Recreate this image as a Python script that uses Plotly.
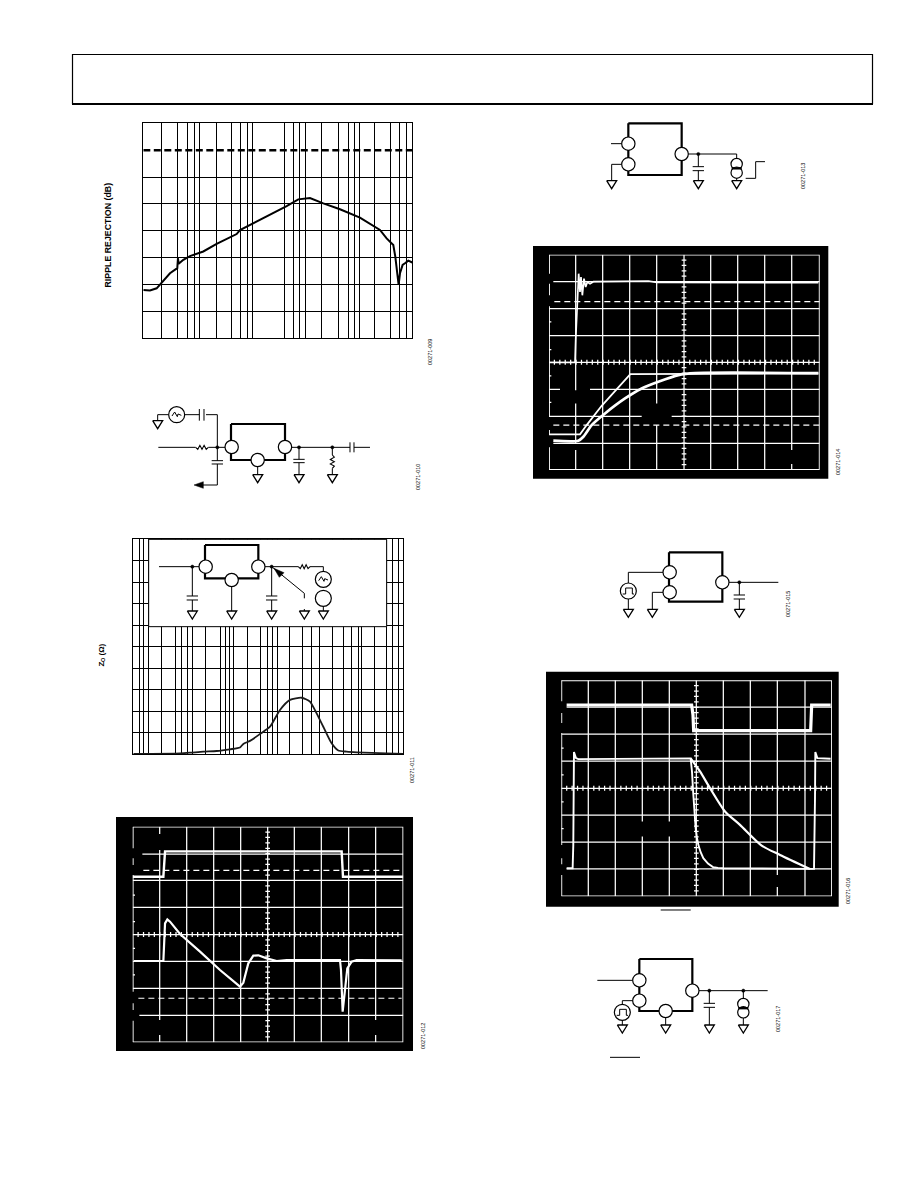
import plotly.graph_objects as go

W, H = 918, 1188

# ---------- data ----------
# Ripple rejection (log10 frequency, dB)
ripple_logf = [1.0,1.124,1.248,1.341,1.496,1.632,1.644,1.657,1.744,1.867,1.991,2.115,2.363,2.735,2.797,3.045,3.354,3.664,3.881,4.098,4.346,4.656,5.027,5.399,5.523,5.647,5.684,5.721,5.746,5.771,5.82,5.864,5.926,6.0]
ripple_db = [-62,-62.2,-61.4,-59.3,-55.8,-53.9,-50.2,-52.3,-50.8,-49.4,-48.4,-47.7,-44.9,-41.2,-39.7,-37.2,-33.9,-30.8,-28.3,-27.8,-29.8,-32,-35.1,-39.7,-42.8,-45.3,-49.6,-57,-60.1,-55.8,-52.7,-52.1,-51.1,-51.8]
ripple_limit_logf = [1.0, 6.0]
ripple_limit_db = [-10, -10]
ripple_grid_logf = [1.334,1.632,1.818,1.954,2.047,2.357,2.636,2.815,2.939,3.026,3.633,3.788,3.912,4.023,4.315,4.625,4.81,4.934,5.015,5.306,5.603,5.771,5.895]
ripple_grid_db = [-20,-30,-40,-50,-60,-70]

# Output impedance (log10 frequency, ohm)
zo_logf = [1.0,2.102,2.338,2.653,2.968,3.282,3.518,3.597,3.755,3.991,4.227,4.463,4.699,4.974,5.171,5.329,5.486,5.683,5.84,6.037,6.273,6.981,7.375]
zo_ohm = [0,0.03,0.06,0.11,0.14,0.22,0.3,0.47,0.61,0.93,1.27,2.05,2.52,2.62,2.44,1.89,1.27,0.5,0.16,0.11,0.08,0.03,0]
zo_grid_logf = [1.142,1.252,1.362,1.661,1.992,2.149,2.283,2.393,2.7,3.062,3.172,3.282,3.369,3.692,4.006,4.164,4.282,4.4,4.699,4.99,5.2,5.4,5.706,5.974,6.155,6.312,6.391,6.69,6.981,7.123,7.257]
zo_grid_ohm = [1,2,3,4,5,6,7,8,9]

# Scope 1 (screen units, 812 x 647)
s1_top_t = [0,92,97,627,631,812]
s1_top_v = [497,497,573,573,497,497]
s1_out_t = [4,92,97,104,112,142,202,262,322,332,347,362,377,402,432,462,622,625,630,635,644,657,672,807]
s1_out_v = [244,244,357,369,362,325,272,217,167,179,237,260,261,252,244,247,247,217,92,137,222,242,247,246]

# Scope 2
s2_a_t = [0,78,80,83,86,89,93,96,100,105,110,115,123,133,298,323,808]
s2_a_v = [323,323,390,460,520,590,535,580,525,575,550,565,560,566,568,564,563]
s2_b_t = [0,93,113,158,244,368,808]
s2_b_v = [107,107,135,193,288,288,290]
s2_c_t = [13,88,103,128,168,228,278,328,388,438,808]
s2_c_v = [88,88,100,135,170,215,245,265,285,291,291]

# Scope 3
s3_a_t = [16,391,395,397,748,751,808]
s3_a_v = [573,573,544,496,496,573,573]
s3_b_t = [16,34,36,38,44,51,388,392,395,398,401,403,407,411,418,426,440,456,470,486,746,758,761,762,768,808]
s3_b_v = [84,84,154,432,414,411,413,374,320,274,235,204,175,154,132,114,98,87,85,84,82,82,294,432,414,412]
s3_c_t = [388,416,446,491,536,601,656,746]
s3_c_v = [413,374,324,254,214,152,124,82]

fig_labels = ["00271-009","00271-010","00271-011","00271-012","00271-013","00271-014","00271-015","00271-016","00271-017"]
fig_label_x = [430,418,412,423,803,838,788,848,778]
fig_label_y = [352,477,770,1036,176,462,604,891,1019]

fig = go.Figure()
shapes = []
annots = []

def px(x): return x / W
def py(y): return 1 - y / H

def pline(points, width=1, color="black", fill=None):
    d = "M" + " L".join(f"{px(x):.5f},{py(y):.5f}" for x, y in points)
    if fill:
        d += " Z"
    shapes.append(dict(type="path", path=d, xref="paper", yref="paper", layer="above",
                       fillcolor=fill if fill else "rgba(0,0,0,0)",
                       line=dict(color=color, width=width)))

def prect(x0, y0, x1, y1, fill=None, line=None, width=1, layer="above"):
    shapes.append(dict(type="rect", xref="paper", yref="paper", layer=layer,
                       x0=px(x0), x1=px(x1), y0=py(y1), y1=py(y0),
                       fillcolor=fill if fill else "rgba(0,0,0,0)",
                       line=dict(color=line if line else "rgba(0,0,0,0)", width=width if line else 0)))

def pcircle(x, y, r, fill="white", width=1.2):
    shapes.append(dict(type="circle", xref="paper", yref="paper", layer="above",
                       x0=px(x - r), x1=px(x + r), y0=py(y + r), y1=py(y - r),
                       fillcolor=fill, line=dict(color="black", width=width)))

class Sch:
    """Schematic drawn from zoomed (3x) readings with an origin on the page."""
    def __init__(self, ox, oy):
        self.ox, self.oy = ox, oy
    def p(self, x, y):
        return (self.ox + x / 3, self.oy + y / 3)
    def line(self, *pts, width=1):
        pline([self.p(*q) for q in pts], width)
    def box(self, x0, y0, x1, y1):
        pline([self.p(x0, y0), self.p(x1, y0), self.p(x1, y1), self.p(x0, y1), self.p(x0, y0)], 2.2)
    def pin(self, x, y, r=20):
        cx, cy = self.p(x, y)
        pcircle(cx, cy, r / 3)
    def dot(self, x, y):
        cx, cy = self.p(x, y)
        pcircle(cx, cy, 1.6, fill="black", width=0.5)
    def gnd(self, x, y):
        self.line((x - 15, y), (x + 15, y), (x, y + 24), (x - 15, y), width=1.3)
    def hcap(self, x, y0, y1, half=17):
        self.line((x - half, y0), (x + half, y0))
        self.line((x - half, y1), (x + half, y1))
    def res_h(self, x0, x1, y):
        n = 6
        pts = [(x0 + (x1 - x0) * i / n, y + (0 if i in (0, n) else (6 if i % 2 else -6))) for i in range(n + 1)]
        self.line(*pts, width=1.1)
    def res_v(self, x, y0, y1):
        n = 6
        pts = [(x + (0 if i in (0, n) else (6 if i % 2 else -6)), y0 + (y1 - y0) * i / n) for i in range(n + 1)]
        self.line(*pts, width=1.1)
    def pulse(self, x, y):
        self.line((x - 17, y + 9), (x - 8, y + 9), (x - 8, y - 9), (x + 12, y - 9), (x + 12, y + 9), (x + 17, y + 9), width=1)
    def wave(self, x, y):
        self.line((x - 14, y + 4), (x - 6, y - 8), (x + 2, y + 6), (x + 4, y - 2), (x + 14, y + 2), width=1)
    def source(self, x, y0, y1):
        self.pin(x, y0, 17); self.pin(x, y1, 17)
        cx0, cy0 = self.p(x - 15, (y0 + y1) / 2)
        cx1, cy1 = self.p(x + 15, (y0 + y1) / 2)
        pline([(cx0, cy0), (cx1, cy1)], 2.4)
    def solid(self, *pts):
        pline([self.p(*q) for q in pts], 0.5, fill="black")

def add_axes(n, x0, y0, x1, y1):
    suffix = "" if n == 1 else str(n)
    return suffix, dict(domain=[px(x0), px(x1)]), dict(domain=[py(y1), py(y0)])

layout_axes = {}

def bode(n, rect, xr, yr, xtv, ytv):
    s, xa, ya = add_axes(n, *rect)
    common = dict(showline=True, linecolor="black", linewidth=1, mirror=True, showgrid=True, gridcolor="black",
                  gridwidth=1, zeroline=False, ticks="", showticklabels=False)
    layout_axes["xaxis" + s] = dict(xa, type="log", range=xr, tickmode="array", tickvals=xtv, anchor="y" + s, **common)
    layout_axes["yaxis" + s] = dict(ya, range=yr, tickmode="array", tickvals=ytv, anchor="x" + s, **common)
    return "x" + s, "y" + s

def scope(n, rect):
    s, xa, ya = add_axes(n, *rect)
    layout_axes["xaxis" + s] = dict(xa, range=[0, 812], visible=False, anchor="y" + s, fixedrange=True)
    layout_axes["yaxis" + s] = dict(ya, range=[0, 647], visible=False, anchor="x" + s, fixedrange=True)
    return "x" + s, "y" + s

def segs(xs, ys, xa, ya, width=1.0, dash=None, color="white", smooth=False):
    line = dict(color=color, width=width, dash=dash)
    if smooth:
        line.update(shape="spline", smoothing=0.7)
    fig.add_trace(go.Scatter(x=xs, y=ys, xaxis=xa, yaxis=ya, mode="lines", hoverinfo="skip", cliponaxis=False,
                             line=line, showlegend=False))

def decor(xa, ya, frame_left, hlines, vlines, dashes, left_ticks):
    # frame
    xs = [0, 812, 812, 0]; ys = [0, 0, 647, 647]
    for a, b in frame_left:
        xs += [None, 0, 0]; ys += [None, a, b]
    segs(xs, ys, xa, ya, 1.8)
    xs, ys = [], []
    for y, parts in hlines:
        for a, b in parts:
            xs += [a, b, None]; ys += [y, y, None]
    for x, parts in vlines:
        for a, b in parts:
            xs += [x, x, None]; ys += [a, b, None]
    # centre cross and graticule ticks
    xs += [0, 812, None, 405, 405, None]; ys += [323.5, 323.5, None, 0, 647, None]
    for i in range(1, 50):
        xt = i * 16.24
        xs += [xt, xt, None]; ys += [316, 331, None]
    for i in range(1, 40):
        yt = i * 16.175
        xs += [398, 412, None]; ys += [yt, yt, None]
    for yt in left_ticks:
        xs += [0, 7, None]; ys += [yt, yt, None]
    segs(xs, ys, xa, ya, 1.25)
    for y, a, b in dashes:
        segs([a, b], [y, y], xa, ya, 1.1, dash="6px,4px")

# ---------- chart 1: ripple rejection ----------
xa, ya = bode(1, (143.3, 123.3, 412.3, 338.3), [1, 6], [-80, 0],
              [10 ** v for v in ripple_grid_logf], ripple_grid_db)
fig.add_trace(go.Scatter(x=[10 ** v for v in ripple_limit_logf], y=ripple_limit_db, xaxis=xa, yaxis=ya, mode="lines",
                         line=dict(color="black", width=2.4, dash="7px,3.5px"), showlegend=False))
fig.add_trace(go.Scatter(x=[10 ** v for v in ripple_logf], y=ripple_db, xaxis=xa, yaxis=ya, mode="lines",
                         line=dict(color="black", width=2), showlegend=False))

# ---------- chart 2: output impedance ----------
xa, ya = bode(2, (133.3, 539.3, 403.3, 754), [1, 7.375], [0, 10],
              [10 ** v for v in zo_grid_logf], zo_grid_ohm)
fig.add_trace(go.Scatter(x=[10 ** v for v in zo_logf], y=zo_ohm, xaxis=xa, yaxis=ya, mode="lines", cliponaxis=False,
                         line=dict(color="#1a1a1a", width=1.8, shape="spline", smoothing=0.6), showlegend=False))

# ---------- scope photographs ----------
prect(116, 817, 413, 1051, fill="black", layer="below")
prect(533, 246, 828.3, 478.7, fill="black", layer="below")
prect(546, 671.7, 838.7, 906.7, fill="black", layer="below")

xa, ya = scope(3, (132.7, 826.7, 403.3, 1042.3))
decor(xa, ya,
      [(0, 65), (97, 117), (152, 502), (532, 552), (582, 647)],
      [(565, [(29, 812)]), (486, [(0, 812)]), (405, [(0, 812)]), (243, [(0, 812)]), (162, [(0, 812)]), (81, [(20, 812)])],
      [(81, [(0, 22), (67, 577), (625, 647)]), (162, [(0, 647)]), (243, [(0, 647)]), (324, [(0, 647)]),
       (485, [(0, 647)]), (566, [(0, 647)]), (648, [(0, 647)]), (729, [(0, 22), (67, 647)])],
      [(516, 32, 812), (132, 17, 807)], [442, 362, 282, 202])
segs(s1_top_t, s1_top_v, xa, ya, 2.4)
segs(s1_out_t, s1_out_v, xa, ya, 2.2)

xa, ya = scope(4, (549, 254.7, 819.7, 470))
decor(xa, ya,
      [(0, 68), (105, 120), (160, 492), (525, 560), (590, 647)],
      [(566, [(13, 812)]), (485, [(0, 812)]), (404, [(0, 812)]), (242, [(0, 33), (123, 812)]), (161, [(0, 278), (368, 812)]), (80, [(13, 812)])],
      [(80, [(0, 60), (80, 200), (240, 647)]), (161, [(0, 647)]), (242, [(0, 647)]), (323, [(0, 135), (200, 647)]),
       (485, [(0, 647)]), (566, [(0, 647)]), (647, [(0, 647)]), (728, [(0, 18), (60, 647)])],
      [(506, 16, 812), (135, 13, 812)], [445, 362, 283, 203])
segs(s2_b_t, s2_b_v, xa, ya, 1.8)
segs(s2_c_t, s2_c_v, xa, ya, 2.7, smooth=True)
segs(s2_a_t, s2_a_v, xa, ya, 1.7)

xa, ya = scope(5, (561.3, 680.3, 832, 896.3))
decor(xa, ya,
      [(0, 64), (96, 114), (154, 489), (519, 549), (584, 647)],
      [(567, [(16, 812)]), (486, [(0, 812)]), (405, [(0, 812)]), (243, [(0, 812)]), (162, [(0, 812)]), (82, [(16, 812)])],
      [(81, [(0, 647)]), (162, [(0, 647)]), (243, [(0, 179), (224, 647)]), (324, [(0, 179), (224, 647)]),
       (486, [(0, 647)]), (567, [(0, 647)]), (648, [(0, 28), (64, 647)]), (731, [(0, 647)])],
      [], [444, 364, 283, 203])
segs(s3_a_t, s3_a_v, xa, ya, 3.2)
segs(s3_b_t, s3_b_v, xa, ya, 1.9)
segs(s3_c_t, s3_c_v, xa, ya, 2.2, smooth=True)

# ---------- header frame ----------
pline([(72.5, 104), (72.5, 54.5), (872.5, 54.5), (872.5, 104)], 1.2)
pline([(72, 104), (873, 104)], 2.2)

# ---------- schematic: ripple test (left, top) ----------
s = Sch(130, 390)
s.line((85, 172), (197, 172)); s.res_h(197, 235, 172); s.line((235, 172), (285, 172))
s.line((262, 172), (262, 212)); s.hcap(262, 212, 222); s.line((262, 222), (262, 285), (215, 285))
s.solid((192, 285), (220, 275), (220, 295))
s.line((262, 172), (262, 74), (228, 74)); s.line((222, 57), (222, 92)); s.line((208, 57), (208, 92))
s.line((208, 74), (165, 74)); s.line((115, 74), (83, 74), (83, 92)); s.gnd(83, 92)
s.pin(140, 74, 24); s.wave(140, 74)
s.box(303, 102, 465, 210)
s.line((485, 172), (607, 172)); s.line((507, 172), (507, 208)); s.hcap(507, 208, 218); s.line((507, 218), (507, 254)); s.gnd(507, 254)
s.line((607, 172), (607, 195)); s.res_v(607, 195, 235); s.line((607, 235), (607, 254)); s.gnd(607, 254)
s.line((607, 172), (660, 172)); s.line((660, 157), (660, 187)); s.line((672, 157), (672, 187)); s.line((672, 172), (720, 172))
s.line((383, 230), (383, 254)); s.gnd(383, 254)
s.pin(305, 171); s.pin(465, 171); s.pin(383, 210)
s.dot(262, 172); s.dot(507, 172); s.dot(607, 172)

# ---------- schematic inset in the impedance chart ----------
prect(90 + 176 / 3, 530 + 28 / 3, 90 + 890 / 3, 530 + 290 / 3, fill="white", line="black", width=1)
s = Sch(90, 530)
s.line((207, 110), (327, 110)); s.line((307, 110), (307, 198)); s.hcap(307, 198, 210); s.line((307, 210), (307, 243)); s.gnd(307, 243)
s.box(345, 45, 505, 145)
s.line((425, 170), (425, 243)); s.gnd(425, 243)
s.line((525, 110), (625, 110)); s.res_h(625, 660, 110); s.line((660, 110), (700, 110), (700, 125))
s.line((545, 110), (545, 198)); s.hcap(545, 198, 210); s.line((545, 210), (545, 243)); s.gnd(545, 243)
s.line((545, 110), (643, 190), (643, 205)); s.solid((552, 115), (582, 128), (568, 142))
s.line((643, 237), (643, 243)); s.gnd(643, 243)
s.pin(700, 148, 24); s.wave(700, 148); s.pin(700, 205, 24); s.line((700, 229), (700, 243)); s.gnd(700, 243)
s.pin(347, 110); s.pin(505, 110); s.pin(425, 150)
s.dot(307, 110); s.dot(545, 110)

# ---------- schematic: load transient (right, top) ----------
s = Sch(590, 110)
s.box(115, 40, 275, 195)
s.line((63, 101), (95, 101)); s.line((95, 163), (65, 163), (65, 212)); s.gnd(65, 212)
s.line((295, 132), (440, 132), (440, 150)); s.line((325, 132), (325, 170)); s.hcap(325, 170, 182); s.line((325, 182), (325, 212)); s.gnd(325, 212)
s.line((440, 205), (440, 212)); s.gnd(440, 212)
s.source(440, 162, 188)
s.line((467, 205), (497, 205), (497, 155), (525, 155))
s.pin(115, 101); s.pin(115, 163); s.pin(275, 132); s.dot(325, 132)

# ---------- schematic: enable transient (right, middle) ----------
s = Sch(600, 540)
s.box(207, 37, 367, 185)
s.line((189, 97), (85, 97), (85, 130)); s.line((85, 177), (85, 208)); s.gnd(85, 208)
s.line((189, 157), (157, 157), (157, 208)); s.gnd(157, 208)
s.line((387, 127), (535, 127)); s.line((418, 127), (418, 165)); s.hcap(418, 165, 177); s.line((418, 177), (418, 208)); s.gnd(418, 208)
s.pin(85, 153, 24); s.pulse(85, 153)
s.pin(209, 97); s.pin(209, 157); s.pin(367, 127); s.dot(418, 127)

# ---------- schematic: shutdown transient (right, bottom) ----------
s = Sch(590, 950)
s.box(148, 27, 307, 183)
s.line((22, 91), (128, 91)); s.line((128, 152), (97, 152), (97, 165)); s.line((97, 211), (97, 225)); s.gnd(97, 225)
s.line((227, 203), (227, 225)); s.gnd(227, 225)
s.line((327, 122), (533, 122)); s.line((358, 122), (358, 160)); s.hcap(358, 160, 172); s.line((358, 172), (358, 225)); s.gnd(358, 225)
s.line((460, 122), (460, 147)); s.line((460, 204), (460, 225)); s.gnd(460, 225)
s.source(460, 162, 187)
s.pin(97, 187, 24); s.pulse(97, 187)
s.pin(148, 91); s.pin(148, 152); s.pin(307, 122); s.pin(227, 183)
s.dot(358, 122); s.dot(460, 122)
s.line((60, 322), (150, 322))

# overbar under the third scope
pline([(660.7, 910), (690.7, 910)], 1)

# ---------- text ----------
FONT = "Liberation Sans"
def text(x, y, t, size, bold=False):
    annots.append(dict(x=px(x), y=py(y), xref="paper", yref="paper", text=f"<b>{t}</b>" if bold else t,
                       textangle=-90, showarrow=False, xanchor="center", yanchor="middle",
                       font=dict(family=FONT, size=size, color="black")))

text(108, 235.5, "RIPPLE REJECTION (dB)", 8.8, True)
text(100.5, 664, "Z", 8, True)
text(102.5, 659.5, "O", 5.5, True)
text(100.5, 650, "(Ω)", 8, True)
for lbl, lx, ly in zip(fig_labels, fig_label_x, fig_label_y):
    text(lx, ly, lbl, 5.5)

fig.update_layout(width=W, height=H, margin=dict(l=0, r=0, t=0, b=0), autosize=False,
                  paper_bgcolor="white", plot_bgcolor="rgba(0,0,0,0)", showlegend=False,
                  shapes=shapes, annotations=annots, **layout_axes)

fig.write_html("out.html", config=dict(displayModeBar=False),
               post_script="document.body.style.margin='0';document.body.style.overflow='hidden';")
